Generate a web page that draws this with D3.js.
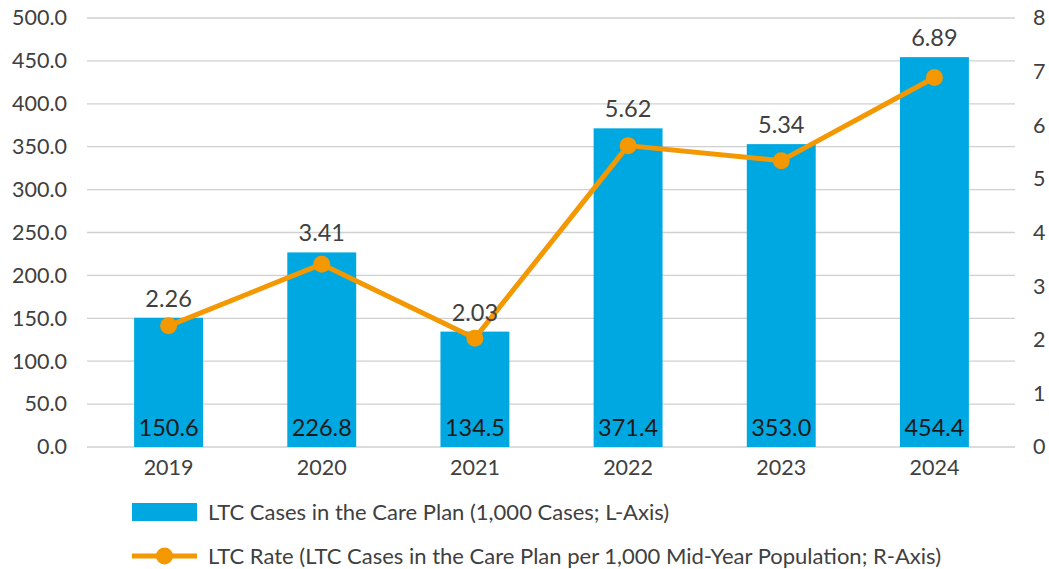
<!DOCTYPE html>
<html><head><meta charset="utf-8">
<script src="https://cdn.jsdelivr.net/npm/d3@7"></script>
<style>body{margin:0;background:#fff}svg{display:block}</style>
</head><body>
<svg id="c" width="1049" height="569"></svg>
<script>
const years = ["2019","2020","2021","2022","2023","2024"];
const cases = [150.6, 226.8, 134.5, 371.4, 353.0, 454.4];
const rates = [2.26, 3.41, 2.03, 5.62, 5.34, 6.89];
const leftTicks = [0,50,100,150,200,250,300,350,400,450,500];
const rightTicks = [0,1,2,3,4,5,6,7,8];
const legendLabels = ["LTC Cases in the Care Plan (1,000 Cases; L-Axis)",
  "LTC Rate (LTC Cases in the Care Plan per 1,000 Mid-Year Population; R-Axis)"];

const FONT = "Lato, 'Noto Sans', sans-serif";
const TXT = "#404040", BLUE = "#00A8E1", ORANGE = "#F39800";
const AX = 21.5;
const svg = d3.select("#c");
const plotTop = 18, plotBottom = 447, gl = 87, gr = 1015;
const x = d3.scaleBand().domain(years).range([92, 1011]).paddingInner(0.55).paddingOuter(0.275);
const yL = d3.scaleLinear().domain([0,500]).range([plotBottom, plotTop]);
const yR = d3.scaleLinear().domain([0,8]).range([plotBottom, plotTop]);

// grid
svg.append("g").selectAll("line").data(leftTicks).join("line")
  .attr("x1", gl).attr("x2", gr).attr("y1", d=>yL(d)).attr("y2", d=>yL(d))
  .attr("stroke", "#d0d0d0").attr("stroke-width", 1.3);

// left axis
const la = svg.append("g").attr("transform", `translate(${gl},0)`)
  .call(d3.axisLeft(yL).tickValues(leftTicks).tickFormat(d3.format(".1f")).tickSize(0).tickPadding(20));
la.select(".domain").remove();
la.selectAll("text").attr("font-family", FONT).attr("font-size", AX).attr("fill", TXT);

// right axis
const ra = svg.append("g").attr("transform", `translate(${gr},0)`)
  .call(d3.axisRight(yR).tickValues(rightTicks).tickFormat(d3.format("d")).tickSize(0).tickPadding(18));
ra.select(".domain").remove();
ra.selectAll("text").attr("font-family", FONT).attr("font-size", AX).attr("fill", TXT);

// x axis
const xa = svg.append("g").attr("transform", `translate(0,${plotBottom})`)
  .call(d3.axisBottom(x).tickSize(0).tickPadding(13));
xa.select(".domain").remove();
xa.selectAll("text").attr("font-family", FONT).attr("font-size", AX).attr("fill", TXT);

// bars
svg.append("g").selectAll("rect").data(cases).join("rect")
  .attr("x", (d,i)=>x(years[i])).attr("width", x.bandwidth())
  .attr("y", d=>yL(d)).attr("height", d=>plotBottom - yL(d)).attr("fill", BLUE);

// bar labels
svg.append("g").selectAll("text").data(cases).join("text")
  .attr("x", (d,i)=>x(years[i]) + x.bandwidth()/2).attr("y", plotBottom - 11)
  .attr("text-anchor", "middle").attr("font-family", FONT).attr("font-size", 23.5)
  .attr("fill", "#1a1a1a").text(d=>d3.format(".1f")(d));

// line
const line = d3.line().x((d,i)=>x(years[i]) + x.bandwidth()/2).y(d=>yR(d));
svg.append("path").datum(rates).attr("d", line).attr("fill", "none")
  .attr("stroke", ORANGE).attr("stroke-width", 5).attr("stroke-linejoin", "round");
svg.append("g").selectAll("circle").data(rates).join("circle")
  .attr("cx", (d,i)=>x(years[i]) + x.bandwidth()/2).attr("cy", d=>yR(d))
  .attr("r", 8.5).attr("fill", ORANGE);

// rate labels
svg.append("g").selectAll("text").data(rates).join("text")
  .attr("x", (d,i)=>x(years[i]) + x.bandwidth()/2).attr("y", (d,i)=>yL(cases[i]) - 11)
  .attr("text-anchor", "middle").attr("font-family", FONT).attr("font-size", 23.5)
  .attr("fill", TXT).text(d=>d3.format(".2f")(d));

// legend
const lg = svg.append("g");
lg.append("rect").attr("x", 132).attr("y", 503).attr("width", 65).attr("height", 18).attr("fill", BLUE);
lg.append("line").attr("x1", 132).attr("x2", 197).attr("y1", 556).attr("y2", 556)
  .attr("stroke", ORANGE).attr("stroke-width", 5);
lg.append("circle").attr("cx", 164.5).attr("cy", 556).attr("r", 8.5).attr("fill", ORANGE);
lg.selectAll("text").data(legendLabels).join("text")
  .attr("x", 208).attr("y", (d,i)=>512 + i*44).attr("dy", "0.35em")
  .attr("font-family", FONT).attr("font-size", 22).attr("fill", TXT).text(d=>d);
</script>
</body></html>
